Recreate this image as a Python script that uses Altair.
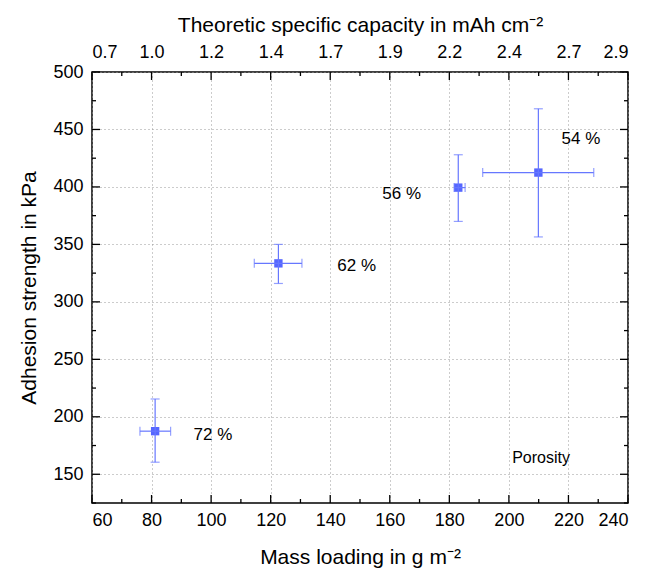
import json
import altair as alt
import pandas as pd

# ---- data ----
mass = [81.2, 122.6, 183.0, 209.9]
mass_lo = [76.1, 114.5, 181.6, 191.2]
mass_hi = [86.4, 130.5, 185.3, 228.5]
adhesion = [187.5, 333.5, 399.4, 412.5]
adhesion_lo = [160.5, 316.0, 370.0, 356.5]
adhesion_hi = [215.5, 350.0, 428.0, 468.0]
porosity_labels = ["72 %", "62 %", "56 %", "54 %"]
label_x = [100.6, 148.9, 164.0, 224.2]
label_y = [184.0, 331.0, 394.0, 441.5]
legend_text = ["Porosity"]
legend_x = [210.8]
legend_y = [164.0]

x_major = [60, 80, 100, 120, 140, 160, 180, 200, 220, 240]
x_minor = [70, 90, 110, 130, 150, 170, 190, 210, 230]
y_major = [150, 200, 250, 300, 350, 400, 450, 500]
y_minor = [125, 175, 225, 275, 325, 375, 425, 475]
top_labels = ["0.7", "1.0", "1.2", "1.4", "1.7", "1.9", "2.2", "2.4", "2.7", "2.9"]

W, H = 536, 431
FONT = "Liberation Sans"
BLUE = "#5566ff"
BAR = "#6677ff"

df = pd.DataFrame({
    "mass": mass, "mass_lo": mass_lo, "mass_hi": mass_hi,
    "adh": adhesion, "adh_lo": adhesion_lo, "adh_hi": adhesion_hi,
})
lab = pd.DataFrame({"x": label_x, "y": label_y, "t": porosity_labels})
leg = pd.DataFrame({"x": legend_x, "y": legend_y, "t": legend_text})

xs = alt.Scale(domain=[60, 240], nice=False, zero=False)
ys = alt.Scale(domain=[125, 500], nice=False, zero=False)

def X(f):
    return alt.X(f, type="quantitative", scale=xs, axis=None)

def Y(f):
    return alt.Y(f, type="quantitative", scale=ys, axis=None)

bottom_axis = alt.Axis(
    orient="bottom", values=x_major, format="d", grid=True,
    title="Mass loading in g m⁻²", labelPadding=8, titlePadding=17,
)
left_axis = alt.Axis(
    orient="left", values=y_major, format="d", grid=True,
    title="Adhesion strength in kPa", labelPadding=9, titlePadding=13,
)
top_expr = json.dumps(top_labels) + "[round((datum.value - 60) / 20)]"
top_axis = alt.Axis(
    orient="top", values=x_major, grid=False, labelExpr=top_expr,
    title="Theoretic specific capacity in mAh cm⁻²", labelPadding=11, titlePadding=8,
)

pts = alt.Chart(df).mark_square(size=70, color=BLUE, opacity=1).encode(
    x=alt.X("mass:Q", scale=xs, axis=bottom_axis),
    y=alt.Y("adh:Q", scale=ys, axis=left_axis),
)
top = alt.Chart(pd.DataFrame({"v": x_major})).mark_point(opacity=0).encode(
    x=alt.X("v:Q", scale=xs, axis=top_axis),
    y=alt.value(0),
)

hbar = alt.Chart(df).mark_rule(color=BAR, strokeWidth=1.2).encode(
    x=X("mass_lo"), x2="mass_hi", y=Y("adh"))
vbar = alt.Chart(df).mark_rule(color=BAR, strokeWidth=1.2).encode(
    x=X("mass"), y=Y("adh_lo"), y2="adh_hi")
cap1 = alt.Chart(df).mark_tick(orient="vertical", size=9, thickness=1.2, color=BAR).encode(
    x=X("mass_lo"), y=Y("adh"))
cap2 = alt.Chart(df).mark_tick(orient="vertical", size=9, thickness=1.2, color=BAR).encode(
    x=X("mass_hi"), y=Y("adh"))
cap3 = alt.Chart(df).mark_tick(orient="horizontal", size=9, thickness=1.2, color=BAR).encode(
    x=X("mass"), y=Y("adh_lo"))
cap4 = alt.Chart(df).mark_tick(orient="horizontal", size=9, thickness=1.2, color=BAR).encode(
    x=X("mass"), y=Y("adh_hi"))

txt = alt.Chart(lab).mark_text(font=FONT, fontSize=17, color="black").encode(
    x=X("x"), y=Y("y"), text="t:N")
legtxt = alt.Chart(leg).mark_text(font=FONT, fontSize=16, color="black").encode(
    x=X("x"), y=Y("y"), text="t:N")

def xticks(vals, length):
    d = alt.Chart(pd.DataFrame({"v": vals}))
    b = d.mark_rule(color="black", strokeWidth=1.3).encode(
        x=X("v"), y=alt.value(H), y2=alt.value(H - length))
    t = d.mark_rule(color="black", strokeWidth=1.3).encode(
        x=X("v"), y=alt.value(0), y2=alt.value(length))
    return [b, t]

def yticks(vals, length):
    d = alt.Chart(pd.DataFrame({"v": vals}))
    l = d.mark_rule(color="black", strokeWidth=1.3).encode(
        y=Y("v"), x=alt.value(0), x2=alt.value(length))
    r = d.mark_rule(color="black", strokeWidth=1.3).encode(
        y=Y("v"), x=alt.value(W), x2=alt.value(W - length))
    return [l, r]

ticks = xticks(x_major, 8) + xticks(x_minor, 4) + yticks(y_major, 8) + yticks(y_minor, 4)

chart = alt.layer(
    pts, top, hbar, vbar, cap1, cap2, cap3, cap4, txt, legtxt, *ticks
).resolve_axis(x="independent", y="independent").properties(
    width=W, height=H,
    autosize=alt.AutoSizeParams(type="none"),
    padding={"left": 84, "top": 64, "right": 10, "bottom": 70},
).configure_view(
    stroke="black", strokeWidth=1.5,
).configure_axis(
    labelFont=FONT, labelFontSize=18, labelColor="black",
    titleFont=FONT, titleFontSize=21, titleFontWeight="normal", titleColor="black",
    domain=False, ticks=False, gridColor="#999999", gridDash=[1, 3], gridWidth=1,
)

chart.save("out.html", embed_options={"renderer": "svg", "actions": False})
